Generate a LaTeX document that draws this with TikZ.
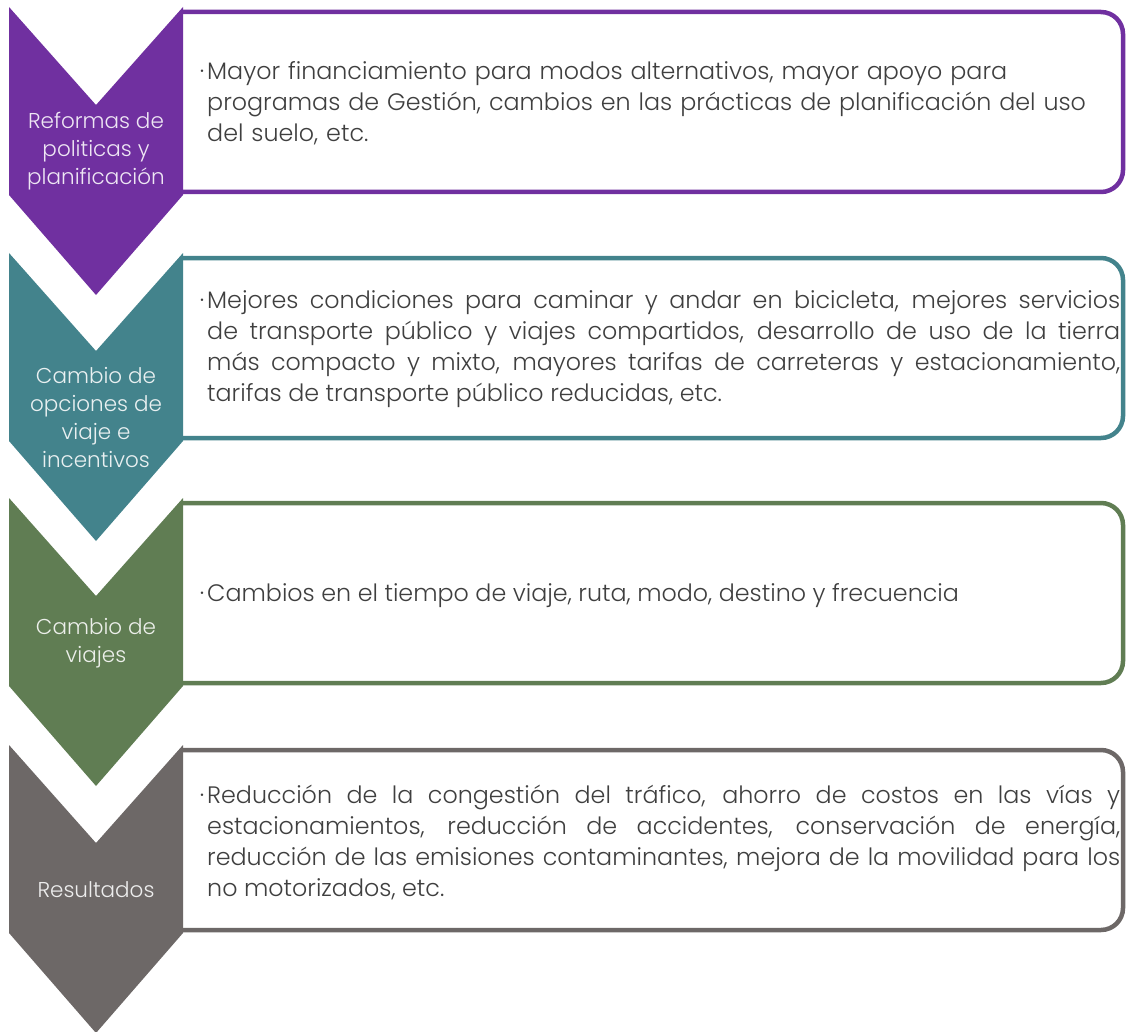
\documentclass[tikz,border=0pt]{standalone}
\usepackage{fontspec}
\setmainfont{Poppins}[UprightFont=* Light]
\usepackage{xcolor}
\usepackage{tikz}
\usetikzlibrary{positioning,calc}
\definecolor{reformcol}{HTML}{7030A0}
\definecolor{optioncol}{HTML}{43838C}
\definecolor{tripcol}{HTML}{607D53}
\definecolor{resultcol}{HTML}{6D6867}
\definecolor{bodytext}{HTML}{3F3F3F}
\newcommand{\dotitem}{\makebox[0pt][r]{·\hspace{3pt}}}
\tikzset{
  chevron/.style={
    fill=#1
  },
  steplabel/.style={
    text=white!88!#1,
    align=center,
    font=\fontsize{21.5}{28}\selectfont,
    inner sep=0pt
  },
  detailbox/.style={
    fill=white,
    minimum width=940pt,
    minimum height=180pt,
    outer sep=0pt,
    inner sep=0pt,
    anchor=west
  },
  boxline/.style={
    draw=#1,
    line width=4.5pt,
    rounded corners=22pt
  },
  detail/.style={
    text=bodytext,
    text width=913pt,
    align=justify,
    font=\fontsize{23.8}{31}\selectfont,
    inner sep=0pt,
    anchor=west
  }
}
\newcommand{\chevronpath}[1]{(9,#1) -- (96,#1+98) -- (183,#1) -- (183,#1+188)
  -- (96,#1+288) -- (9,#1+188) -- cycle}
\newcommand{\boxborder}[2]{\draw[boxline=#2] (#1.north west) -- (#1.north east)
  -- (#1.south east) -- (#1.south west);}

\begin{document}
\begin{tikzpicture}[x=1pt,y=-1pt]
  \useasboundingbox (0,0) rectangle (1126,1032);
  % boxes on the right
  \node[detailbox] (reformbox) at (183,102) {};
  \node[detailbox] (optionbox) at (183,348) {};
  \node[detailbox] (tripbox) at (183,593) {};
  \node[detailbox] (resultbox) at (183,840) {};
  \boxborder{reformbox}{reformcol}
  \boxborder{optionbox}{optioncol}
  \boxborder{tripbox}{tripcol}
  \boxborder{resultbox}{resultcol}
  % chevrons on the left
  \fill[chevron=reformcol] \chevronpath{7};
  \fill[chevron=optioncol] \chevronpath{253};
  \fill[chevron=tripcol] \chevronpath{498};
  \fill[chevron=resultcol] \chevronpath{745};
  \node[steplabel=reformcol] (reform) at (96,151) {Reformas de\\politicas y\\planificación};
  \node[steplabel=optioncol] (option) at (96,417) {Cambio de\\opciones de\\viaje e\\incentivos};
  \node[steplabel=tripcol] (trip) at (96,643) {Cambio de\\viajes};
  \node[steplabel=resultcol] (result) at (96,890) {Resultados};
  % texts
  \node[detail,align=left] (reformtext) at (207,103) {\dotitem Mayor financiamiento para modos alternativos, mayor apoyo para\\
    programas de Gestión, cambios en las prácticas de planificación del uso\\
    del suelo, etc.};
  \node[detail] (optiontext) at (207,349) {\dotitem Mejores condiciones para caminar y andar en bicicleta, mejores servicios\linebreak
    de transporte público y viajes compartidos, desarrollo de uso de la tierra\linebreak
    más compacto y mixto, mayores tarifas de carreteras y estacionamiento,\linebreak
    tarifas de transporte público reducidas, etc.};
  \node[detail] (triptext) at (207,596) {\dotitem Cambios en el tiempo de viaje, ruta, modo, destino y frecuencia};
  \node[detail] (resulttext) at (207,843) {\dotitem Reducción de la congestión del tráfico, ahorro de costos en las vías y\linebreak
    estacionamientos, reducción de accidentes, conservación de energía,\linebreak
    reducción de las emisiones contaminantes, mejora de la movilidad para los\linebreak
    no motorizados, etc.};
\end{tikzpicture}
\end{document}
